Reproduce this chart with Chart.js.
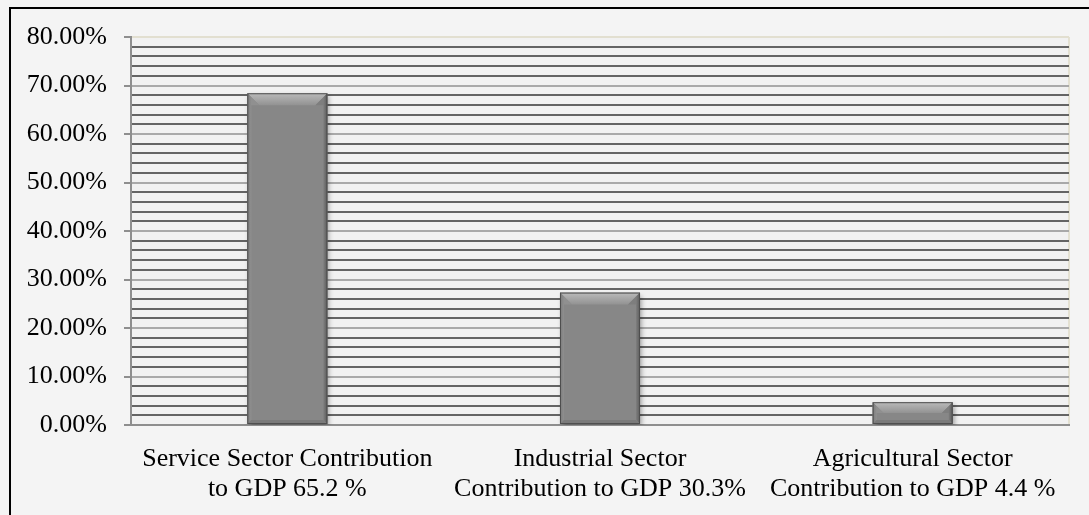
<!DOCTYPE html>
<html>
<head>
<meta charset="utf-8">
<script src="https://cdn.jsdelivr.net/npm/chart.js@4"></script>
<style>
  html, body { margin: 0; padding: 0; background: #f4f4f4; }
  #frame {
    position: absolute; left: 9px; top: 7px; right: 0; bottom: 0;
    border-left: 2px solid #000; border-top: 2px solid #000;
    background: #f4f4f4;
  }
  #sectorChart { display: block; }
</style>
</head>
<body>
<div id="frame"><canvas id="sectorChart" width="1078" height="506"></canvas></div>
<script>
// sectors and their share of GDP
const sectors = [
  ['Service Sector Contribution', 'to GDP 65.2 %'],
  ['Industrial Sector', 'Contribution to GDP 30.3%'],
  ['Agricultural Sector', 'Contribution to GDP 4.4 %']
];
const shares = [68.4, 27.3, 4.7];
const yMin = 0;
const yMax = 80;
const yStep = 2;      // minor grid every 2 %
const labelStep = 10; // labelled ticks every 10 %

const serif = '"Liberation Serif", "Times New Roman", serif';

// shadow under the bars
const barShadow = {
  id: 'barShadow',
  beforeDatasetDraw(chart) {
    const ctx = chart.ctx;
    ctx.save();
    ctx.shadowColor = 'rgba(0,0,0,0.35)';
    ctx.shadowBlur = 5;
    ctx.shadowOffsetX = 2;
    ctx.shadowOffsetY = 3;
  },
  afterDatasetDraw(chart) { chart.ctx.restore(); }
};

// bevelled edges on top of each bar
const barBevel = {
  id: 'barBevel',
  afterDatasetsDraw(chart) {
    const ctx = chart.ctx;
    chart.getDatasetMeta(0).data.forEach(bar => {
      const l = bar.x - bar.width / 2, r = bar.x + bar.width / 2;
      const t = bar.y, b = bar.base;
      const bv = Math.min(12, (b - t) / 2), sd = 4;
      ctx.save();
      // top bevel
      let g = ctx.createLinearGradient(0, t, 0, t + bv);
      g.addColorStop(0, '#bababa');
      g.addColorStop(1, '#929292');
      ctx.fillStyle = g;
      ctx.beginPath();
      ctx.moveTo(l, t); ctx.lineTo(r, t); ctx.lineTo(r - bv, t + bv); ctx.lineTo(l + bv, t + bv);
      ctx.closePath(); ctx.fill();
      // left side
      g = ctx.createLinearGradient(l, 0, l + sd, 0);
      g.addColorStop(0, '#7a7a7a');
      g.addColorStop(1, '#909090');
      ctx.fillStyle = g;
      ctx.beginPath();
      ctx.moveTo(l, t); ctx.lineTo(l + bv, t + bv); ctx.lineTo(l + sd, t + bv); ctx.lineTo(l + sd, b - sd); ctx.lineTo(l, b);
      ctx.closePath(); ctx.fill();
      // right side
      g = ctx.createLinearGradient(r - sd, 0, r, 0);
      g.addColorStop(0, '#7e7e7e');
      g.addColorStop(1, '#5c5c5c');
      ctx.fillStyle = g;
      ctx.beginPath();
      ctx.moveTo(r, t); ctx.lineTo(r, b); ctx.lineTo(r - sd, b - sd); ctx.lineTo(r - sd, t + bv); ctx.lineTo(r - bv, t + bv);
      ctx.closePath(); ctx.fill();
      // bottom edge
      ctx.fillStyle = '#7a7a7a';
      ctx.beginPath();
      ctx.moveTo(l, b); ctx.lineTo(r, b); ctx.lineTo(r - sd, b - sd); ctx.lineTo(l + sd, b - sd);
      ctx.closePath(); ctx.fill();
      // outline
      ctx.strokeStyle = '#4e4e4e';
      ctx.lineWidth = 1;
      ctx.strokeRect(l + 0.5, t + 0.5, r - l - 1, b - t - 1);
      ctx.restore();
    });
  }
};

// plot area fill and its pale right edge
const plotArea = {
  id: 'plotArea',
  beforeDraw(chart) {
    const { ctx, chartArea: a } = chart;
    ctx.save();
    ctx.fillStyle = '#f1f1f1';
    ctx.fillRect(a.left, a.top, a.right - a.left, a.bottom - a.top);
    ctx.strokeStyle = '#e4e1d2';
    ctx.lineWidth = 2;
    ctx.beginPath();
    ctx.moveTo(a.right, a.top); ctx.lineTo(a.right, a.bottom);
    ctx.stroke();
    ctx.restore();
  }
};

const ctx = document.getElementById('sectorChart').getContext('2d');
new Chart(ctx, {
  type: 'bar',
  data: {
    labels: sectors,
    datasets: [{
      data: shares,
      backgroundColor: '#878787',
      borderWidth: 0,
      categoryPercentage: 1,
      barPercentage: 0.256
    }]
  },
  options: {
    responsive: false,
    animation: false,
    layout: { padding: { top: 28, right: 20, bottom: 0, left: 0 } },
    plugins: { legend: { display: false }, tooltip: { enabled: false } },
    scales: {
      x: {
        afterFit(scale) { scale.height = 90; },
        grid: { display: false, drawTicks: false },
        border: { display: true, color: '#8e8e8e', width: 2 },
        ticks: {
          color: '#000',
          padding: 19,
          maxRotation: 0,
          font: { family: serif, size: 26, lineHeight: 1.15 }
        }
      },
      y: {
        min: yMin,
        max: yMax,
        afterFit(scale) { scale.width = 120; scale.paddingTop = 0; scale.paddingBottom = 0; },
        afterBuildTicks(scale) {
          const t = [];
          for (let v = yMin; v <= yMax; v += yStep) t.push({ value: v });
          scale.ticks = t;
        },
        grid: {
          lineWidth: 2,
          color: c => {
            const v = c.tick ? c.tick.value : 0;
            if (v === yMax) return '#e2dfd0';
            if (v === yMin) return 'transparent';
            return v % labelStep === 0 ? '#a9a9a9' : '#646464';
          },
          tickColor: c => (c.tick && c.tick.value % labelStep === 0) ? '#8e8e8e' : 'transparent',
          tickLength: 7,
          tickWidth: 2
        },
        border: { display: true, color: '#8e8e8e', width: 2 },
        ticks: {
          color: '#000',
          padding: 17,
          autoSkip: false,
          font: { family: serif, size: 26 },
          callback: v => v % labelStep === 0 ? v.toFixed(2) + '%' : ''
        }
      }
    }
  },
  plugins: [plotArea, barShadow, barBevel]
});
</script>
</body>
</html>
